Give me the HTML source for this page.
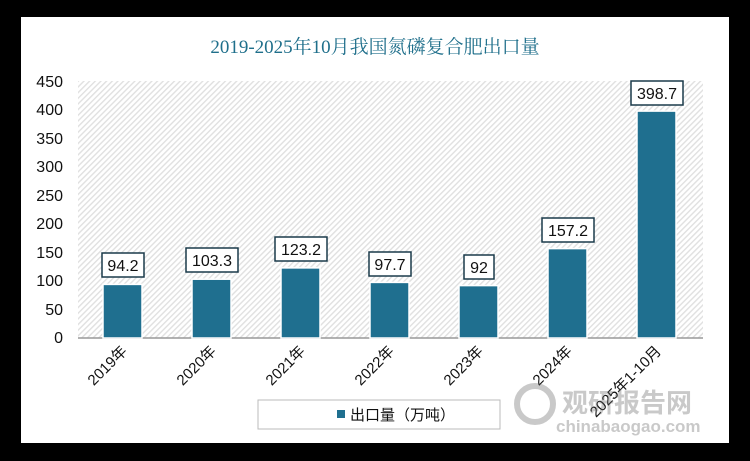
<!DOCTYPE html>
<html><head><meta charset="utf-8"><style>
body{margin:0;background:#000;}
svg{display:block}
</style></head><body>
<svg width="750" height="461" xmlns="http://www.w3.org/2000/svg" font-family="Liberation Sans, Noto Sans CJK SC, sans-serif">
<defs>
<pattern id="h" width="4" height="4" patternUnits="userSpaceOnUse" patternTransform="rotate(45)">
<rect width="4" height="4" fill="#fff"/><rect width="1.4" height="4" fill="#e0e0e0"/>
</pattern>
</defs>
<rect x="0" y="0" width="750" height="461" fill="#000"/>
<rect x="21" y="17" width="708" height="426" fill="#fff"/>
<text x="375" y="53" text-anchor="middle" font-size="19" fill="#1f6f8b" font-family="Liberation Serif, Noto Serif CJK SC, serif">2019-2025年10月我国氮磷复合肥出口量</text>
<rect x="78" y="81" width="625" height="257" fill="url(#h)"/>
<line x1="78" y1="338" x2="703" y2="338" fill="none" stroke="#999" stroke-width="1.5"/>
<g font-size="16" fill="#111" text-anchor="end">
<text x="63" y="87">450</text><text x="63" y="115">400</text><text x="63" y="144">350</text><text x="63" y="172">300</text><text x="63" y="201">250</text><text x="63" y="229">200</text><text x="63" y="258">150</text><text x="63" y="286">100</text><text x="63" y="315">50</text><text x="63" y="343">0</text>
</g>
<g fill="#1f6f8f" stroke="#fff" stroke-width="1.5">
<rect x="103" y="284.4" width="39" height="53.6"/>
<rect x="192" y="279.2" width="39" height="58.8"/>
<rect x="281" y="267.9" width="39" height="70.1"/>
<rect x="370" y="282.4" width="39" height="55.6"/>
<rect x="459" y="285.6" width="39" height="52.4"/>
<rect x="548" y="248.6" width="39" height="89.4"/>
<rect x="637" y="111.1" width="39" height="226.9"/>
</g>
<g fill="#fff" stroke="#1a3a4a" stroke-width="1.5">
<rect x="102" y="253" width="42" height="24"/>
<rect x="186" y="248" width="52" height="24"/>
<rect x="275" y="237" width="52" height="24"/>
<rect x="369" y="252" width="42" height="24"/>
<rect x="464" y="255" width="30" height="24"/>
<rect x="542" y="218" width="52" height="24"/>
<rect x="631" y="81" width="52" height="24"/>
</g>
<g font-size="16" fill="#111" text-anchor="middle">
<text x="123" y="271">94.2</text><text x="212" y="266">103.3</text><text x="301" y="255">123.2</text><text x="390" y="270">97.7</text><text x="479" y="273">92</text><text x="568" y="236">157.2</text><text x="657" y="99">398.7</text>
</g>
<g font-size="15" fill="#111" text-anchor="end">
<text transform="translate(128,352) rotate(-45)">2019年</text>
<text transform="translate(217,352) rotate(-45)">2020年</text>
<text transform="translate(306,352) rotate(-45)">2021年</text>
<text transform="translate(395,352) rotate(-45)">2022年</text>
<text transform="translate(484,352) rotate(-45)">2023年</text>
<text transform="translate(573,352) rotate(-45)">2024年</text>
<text transform="translate(662,352) rotate(-45)">2025年1-10月</text>
</g>
<rect x="258" y="400" width="242" height="29" fill="#fff" stroke="#bbb"/>
<rect x="337" y="410" width="8" height="8" fill="#1f6f8f"/>
<text x="350" y="420" font-size="15" fill="#111">出口量（万吨）</text>
<g opacity="0.35" fill="#666">
<circle cx="535" cy="404" r="18" fill="none" stroke="#666" stroke-width="6"/>
<text x="562" y="412" font-size="26" font-weight="bold">观研报告网</text>
<text x="556" y="432" font-size="17" font-weight="bold">chinabaogao.com</text>
</g>
</svg>
</body></html>
